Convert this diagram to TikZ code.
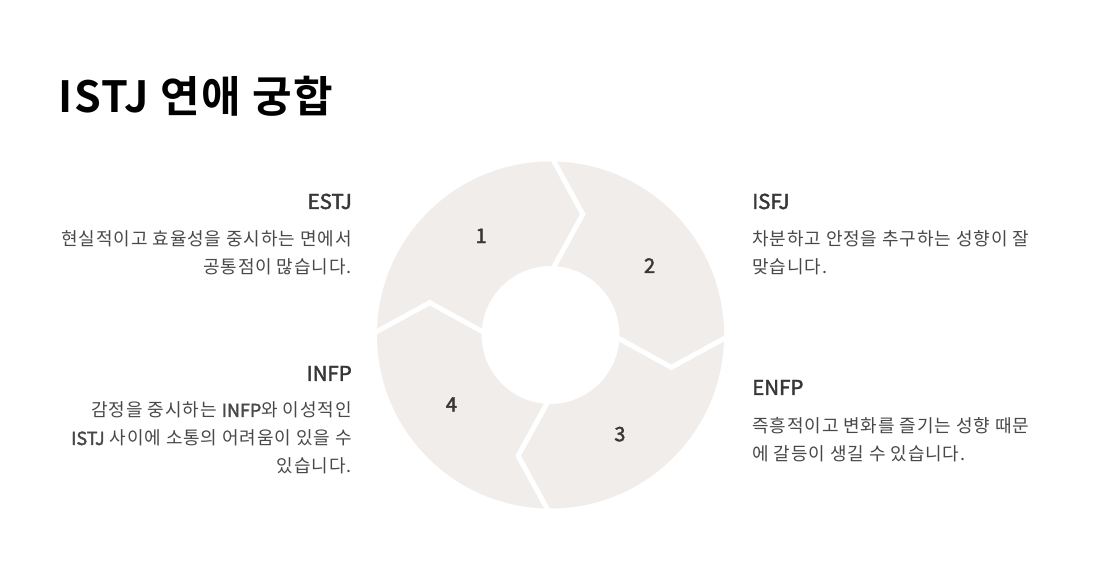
\documentclass[tikz,border=0pt]{standalone}
\usepackage{fontspec}
\setmainfont{Noto Sans CJK KR}
\newfontfamily\headfont{Noto Sans CJK KR}[FakeBold=2]
\newfontfamily\bodyfont{Noto Sans CJK KR}[LetterSpace=5]
\newfontfamily\titlefont{Noto Sans CJK KR Bold}[LetterSpace=4]
\usetikzlibrary{calc}
\definecolor{ringgray}{RGB}{240,237,235}
\definecolor{headgray}{RGB}{55,55,55}
\definecolor{bodygray}{RGB}{72,72,72}

\tikzset{
  heading/.style={font=\headfont\fontsize{20.5}{24}\selectfont, text=headgray, inner sep=0pt},
  bodytext/.style={font=\bodyfont\fontsize{18}{28}\selectfont, text=bodygray, inner sep=0pt},
  segnum/.style={font=\headfont\fontsize{20}{24}\selectfont, text=headgray},
  gap/.style={white, line width=5pt, line join=miter}
}

\begin{document}
\begin{tikzpicture}[x=1pt, y=1pt]
\useasboundingbox[fill=white] (0,0) rectangle (1101,570);

% title
\node[anchor=base west, inner sep=0pt, font=\titlefont\fontsize{43}{50}\selectfont] (title) at (58,457) {ISTJ 연애 궁합};

% ring
\coordinate (C) at (550.5,235);
\fill[ringgray, even odd rule] (C) circle (173.5pt) (C) circle (69pt);

% cuts between segments
\foreach \a in {90,0,-90,180}
  \draw[gap] ($(C)+(\a:180)$) -- ($(C)+(\a-15:125)$) -- ($(C)+(\a:62)$);

\node[segnum] (n1) at ($(C)+(125:121)$) {1};
\node[segnum] (n2) at ($(C)+(35:121)$) {2};
\node[segnum] (n3) at ($(C)+(-55:121)$) {3};
\node[segnum] (n4) at ($(C)+(215:121)$) {4};

% left side
\node[heading, anchor=base east] (estj) at (352,361) {ESTJ};
\node[bodytext, anchor=base east, align=right] (estjtxt) at (352,296) {현실적이고 효율성을 중시하는 면에서\\공통점이 많습니다.};

\node[heading, anchor=base east] (infp) at (352,189) {INFP};
\node[bodytext, anchor=base east, align=right] (infptxt) at (352,97) {감정을 중시하는 {\headfont INFP}와 이성적인\\{\headfont ISTJ} 사이에 소통의 어려움이 있을 수\\있습니다.};

% right side
\node[heading, anchor=base west] (isfj) at (752,361) {ISFJ};
\node[bodytext, anchor=base west, align=left] (isfjtxt) at (752,296) {차분하고 안정을 추구하는 성향이 잘\\맞습니다.};

\node[heading, anchor=base west] (enfp) at (752,175) {ENFP};
\node[bodytext, anchor=base west, align=left] (enfptxt) at (752,109) {즉흥적이고 변화를 즐기는 성향 때문\\에 갈등이 생길 수 있습니다.};
\end{tikzpicture}
\end{document}
